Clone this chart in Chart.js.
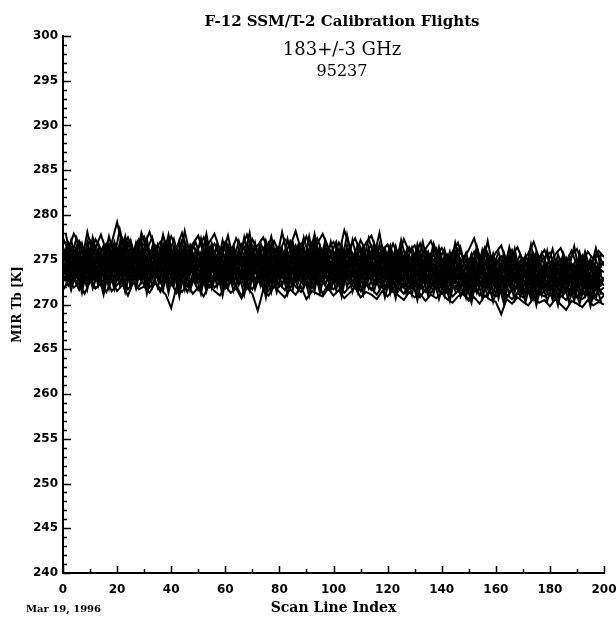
<!DOCTYPE html>
<html>
<head>
<meta charset="utf-8">
<script src="https://cdn.jsdelivr.net/npm/chart.js@4.4.1/dist/chart.umd.min.js"></script>
<style>
  html, body { margin: 0; padding: 0; background: #fff; overflow: hidden; }
  #wrap { width: 616px; height: 617px; position: relative; overflow: hidden; }
  canvas { display: block; }
</style>
</head>
<body>
<div id="wrap"><canvas id="myChart"></canvas></div>
<script>
// textos del grafico
const titulo = 'F-12 SSM/T-2 Calibration Flights';
const canal = '183+/-3 GHz';
const vuelo = '95237';
const fecha = 'Mar 19, 1996';
const ejeX = 'Scan Line Index';
const ejeY = 'MIR Tb [K]';

// marcas de los ejes
const yTicks = [240, 245, 250, 255, 260, 265, 270, 275, 280, 285, 290, 295, 300];
const xTicks = [0, 20, 40, 60, 80, 100, 120, 140, 160, 180, 200];

// indice de linea de barrido: pares e impares
const scanLine = [0, 2, 4, 6, 8, 10, 12, 14, 16, 18, 20, 22, 24, 26, 28, 30, 32, 34, 36, 38,
  40, 42, 44, 46, 48, 50, 52, 54, 56, 58, 60, 62, 64, 66, 68, 70, 72, 74, 76, 78,
  80, 82, 84, 86, 88, 90, 92, 94, 96, 98, 100, 102, 104, 106, 108, 110, 112, 114, 116, 118,
  120, 122, 124, 126, 128, 130, 132, 134, 136, 138, 140, 142, 144, 146, 148, 150, 152, 154, 156, 158,
  160, 162, 164, 166, 168, 170, 172, 174, 176, 178, 180, 182, 184, 186, 188, 190, 192, 194, 196, 198, 200];
const scanLineImpar = [1, 3, 5, 7, 9, 11, 13, 15, 17, 19, 21, 23, 25, 27, 29, 31, 33, 35, 37, 39,
  41, 43, 45, 47, 49, 51, 53, 55, 57, 59, 61, 63, 65, 67, 69, 71, 73, 75, 77, 79,
  81, 83, 85, 87, 89, 91, 93, 95, 97, 99, 101, 103, 105, 107, 109, 111, 113, 115, 117, 119,
  121, 123, 125, 127, 129, 131, 133, 135, 137, 139, 141, 143, 145, 147, 149, 151, 153, 155, 157, 159,
  161, 163, 165, 167, 169, 171, 173, 175, 177, 179, 181, 183, 185, 187, 189, 191, 193, 195, 197, 199];

// Tb de cada vuelo de calibracion (K), lineas pares
const tb01 = [277.4, 276.1, 277.9, 276.8, 275.7, 277.2, 276.3, 277.8, 276.0, 276.9,
  279.2, 276.4, 277.5, 275.9, 277.3, 276.6, 278.1, 276.2, 277.0, 275.8,
  277.6, 276.3, 278.0, 275.9, 276.8, 277.7, 275.6, 276.9, 277.9, 276.1,
  276.7, 275.5, 277.4, 276.2, 277.8, 275.9, 276.6, 277.5, 276.0, 277.1,
  275.8, 277.3, 276.5, 278.2, 276.1, 277.6, 275.7, 276.8, 277.9, 276.3,
  277.0, 275.6, 278.3, 276.4, 277.4, 275.8, 276.9, 277.7, 275.9, 276.5,
  275.2, 276.8, 275.4, 277.3, 275.9, 276.6, 274.9, 276.2, 277.1, 275.5,
  276.3, 274.8, 275.9, 276.9, 275.0, 276.1, 277.4, 275.3, 276.0, 274.7,
  275.8, 276.6, 274.6, 275.5, 276.4, 274.9, 275.7, 277.0, 275.2, 276.1,
  274.5, 275.6, 276.3, 274.8, 275.4, 276.2, 274.6, 275.9, 275.1, 276.0, 275.3];
const tb02 = [275.3, 276.9, 275.8, 277.1, 276.0, 275.4, 277.3, 276.2, 275.6, 276.8,
  275.7, 277.4, 276.1, 275.2, 276.9, 277.6, 275.8, 276.4, 275.3, 277.0,
  276.0, 275.1, 277.2, 276.6, 275.4, 276.3, 277.5, 275.7, 276.8, 275.5,
  277.0, 276.1, 274.9, 276.7, 275.6, 277.3, 276.0, 275.2, 276.9, 275.8,
  276.5, 275.3, 277.1, 275.9, 276.8, 275.0, 276.4, 277.4, 275.6, 276.2,
  275.4, 276.9, 275.7, 276.3, 275.1, 277.2, 275.9, 276.6, 275.3, 276.0,
  276.7, 275.1, 275.9, 274.6, 276.4, 275.2, 276.8, 274.9, 275.7, 276.3,
  274.8, 275.6, 274.4, 276.2, 275.3, 274.6, 275.9, 274.9, 276.4, 275.0,
  274.3, 275.4, 274.9, 276.1, 274.5, 275.2, 274.0, 275.7, 274.6, 275.3,
  275.8, 274.2, 275.1, 274.7, 276.0, 274.4, 275.5, 274.1, 274.9, 275.6, 274.3];
const tb03 = [276.4, 274.9, 275.6, 276.7, 275.1, 276.2, 274.8, 275.9, 276.8, 275.3,
  276.1, 274.7, 277.0, 275.5, 276.3, 274.9, 275.8, 276.6, 275.0, 276.4,
  274.8, 276.2, 275.4, 274.6, 276.5, 275.7, 274.9, 276.3, 275.1, 276.0,
  275.2, 276.4, 274.7, 275.9, 276.8, 275.0, 275.7, 274.5, 276.2, 275.6,
  274.9, 276.0, 275.3, 276.6, 274.8, 275.5, 276.9, 275.1, 274.6, 276.3,
  275.8, 274.7, 276.1, 275.2, 274.6, 276.4, 275.0, 275.9, 276.5, 274.8,
  275.3, 274.4, 276.0, 275.1, 274.2, 275.6, 274.8, 276.1, 274.5, 275.4,
  273.9, 275.0, 274.3, 275.5, 274.7, 273.8, 275.2, 274.1, 275.6, 274.4,
  275.0, 273.8, 274.6, 275.3, 273.6, 274.9, 274.2, 275.1, 273.9, 274.5,
  273.7, 274.8, 274.1, 275.2, 273.6, 274.4, 275.0, 273.8, 274.6, 273.9, 274.8];
const tb04 = [274.7, 276.0, 275.2, 274.4, 275.9, 274.8, 276.1, 275.0, 274.3, 275.7,
  276.3, 275.1, 274.5, 276.0, 274.9, 275.6, 274.2, 276.4, 275.3, 274.7,
  275.9, 274.4, 276.1, 275.0, 274.3, 275.8, 274.7, 276.2, 274.5, 275.4,
  274.6, 275.8, 275.1, 274.2, 276.0, 274.8, 275.5, 276.3, 274.4, 275.2,
  275.7, 274.3, 275.0, 276.1, 274.6, 275.9, 274.5, 275.3, 276.0, 274.7,
  274.4, 275.6, 274.9, 276.2, 274.1, 275.3, 274.7, 275.8, 274.3, 275.5,
  274.0, 275.2, 274.5, 273.8, 275.4, 274.2, 275.0, 273.9, 275.3, 274.6,
  274.9, 273.6, 274.4, 275.1, 273.7, 274.8, 274.0, 273.5, 274.7, 273.9,
  273.4, 274.5, 273.8, 274.2, 274.9, 273.3, 274.0, 273.6, 274.7, 273.2,
  274.3, 273.5, 274.1, 273.0, 274.6, 273.7, 273.2, 274.4, 273.4, 274.0, 273.6];
const tb05 = [275.8, 274.3, 275.1, 274.0, 275.6, 274.7, 273.9, 275.4, 274.6, 275.9,
  274.5, 275.7, 274.2, 275.3, 276.0, 274.4, 275.1, 273.9, 275.5, 274.8,
  274.1, 275.4, 274.7, 275.9, 274.0, 275.2, 274.6, 273.8, 275.3, 274.9,
  275.6, 274.2, 274.9, 275.4, 273.9, 274.7, 275.8, 274.1, 275.0, 274.4,
  274.0, 275.3, 274.6, 273.8, 275.5, 274.3, 275.0, 274.5, 273.7, 275.2,
  275.1, 273.9, 274.8, 274.2, 275.4, 273.7, 274.9, 274.3, 275.0, 274.1,
  273.6, 274.7, 273.9, 275.0, 274.1, 273.4, 274.5, 273.8, 274.3, 273.5,
  274.2, 273.3, 274.5, 273.7, 272.9, 274.0, 273.4, 274.6, 273.1, 273.9,
  273.0, 274.1, 273.4, 272.8, 273.9, 273.2, 274.3, 272.9, 273.6, 273.9,
  272.7, 273.8, 273.1, 274.0, 272.9, 273.5, 272.6, 273.7, 273.0, 273.4, 272.8];
const tb06 = [273.8, 275.0, 274.2, 275.3, 273.6, 274.8, 275.2, 273.9, 274.5, 273.4,
  275.1, 274.0, 275.4, 273.7, 274.6, 275.0, 273.5, 274.3, 275.2, 273.9,
  274.7, 273.6, 274.9, 275.3, 273.8, 274.4, 275.1, 273.5, 274.2, 274.9,
  273.7, 274.8, 274.1, 273.4, 275.0, 274.3, 273.6, 274.9, 274.0, 273.5,
  274.6, 275.2, 273.9, 274.4, 273.3, 274.7, 275.0, 273.8, 274.5, 273.6,
  274.0, 274.9, 273.5, 274.3, 275.0, 273.7, 274.5, 273.4, 274.8, 273.9,
  274.4, 273.2, 274.0, 273.6, 274.6, 273.3, 273.9, 274.5, 273.0, 274.1,
  273.0, 273.8, 272.7, 274.1, 273.3, 272.6, 273.9, 273.1, 272.5, 273.6,
  273.8, 272.6, 273.2, 273.9, 272.4, 273.5, 272.8, 273.3, 272.2, 273.1,
  273.4, 272.5, 273.0, 272.3, 273.6, 272.8, 273.2, 272.1, 273.3, 272.6, 273.0];
const tb07 = [274.9, 273.6, 274.5, 273.2, 274.7, 273.9, 274.3, 273.0, 275.0, 274.1,
  273.5, 274.8, 273.8, 274.4, 273.1, 275.0, 274.0, 273.6, 274.7, 273.3,
  274.0, 274.9, 273.4, 274.2, 273.7, 274.8, 273.2, 274.5, 273.8, 274.3,
  274.6, 273.5, 274.2, 273.0, 274.7, 273.8, 274.4, 273.3, 274.9, 273.7,
  273.4, 274.5, 273.1, 274.8, 274.0, 273.6, 274.3, 273.0, 274.6, 273.9,
  274.5, 273.3, 274.1, 273.7, 272.9, 274.4, 273.8, 274.6, 273.2, 274.0,
  273.2, 274.1, 273.5, 272.8, 274.3, 273.6, 273.0, 274.0, 273.4, 272.7,
  273.7, 272.6, 273.4, 272.9, 273.8, 272.5, 273.2, 273.9, 272.8, 273.4,
  272.4, 273.3, 272.7, 273.6, 272.3, 273.0, 273.5, 272.2, 272.9, 273.4,
  272.6, 273.1, 272.0, 272.9, 273.3, 272.2, 272.7, 273.4, 272.4, 272.0, 272.8];
const tb08 = [273.2, 274.5, 273.7, 274.8, 273.4, 274.1, 272.9, 274.4, 273.6, 274.7,
  274.2, 273.1, 274.6, 273.5, 274.0, 272.9, 274.3, 273.7, 273.0, 274.5,
  273.4, 274.3, 272.8, 274.0, 273.5, 272.9, 274.4, 273.2, 274.1, 273.0,
  273.9, 272.7, 274.2, 273.6, 273.0, 274.5, 273.3, 272.8, 273.8, 274.3,
  273.1, 273.9, 274.4, 272.9, 273.6, 274.1, 272.7, 273.5, 273.0, 274.2,
  273.3, 272.6, 274.0, 273.1, 273.7, 272.5, 273.9, 272.9, 273.4, 274.0,
  272.8, 273.6, 272.4, 273.3, 272.7, 273.9, 272.5, 273.2, 272.9, 273.5,
  272.3, 273.1, 272.6, 273.4, 272.1, 272.8, 273.2, 272.4, 273.0, 272.2,
  273.1, 272.5, 271.9, 272.8, 273.2, 272.0, 272.6, 271.8, 273.0, 272.3,
  271.9, 272.7, 272.2, 271.7, 272.9, 272.1, 272.5, 271.8, 272.4, 272.9, 272.1];
const tb09 = [274.1, 272.8, 273.5, 272.6, 274.0, 273.2, 272.7, 273.8, 272.9, 273.4,
  272.7, 273.9, 273.1, 274.2, 272.8, 273.5, 272.6, 274.0, 273.3, 272.9,
  273.8, 272.5, 273.4, 272.9, 274.0, 273.1, 272.4, 273.6, 272.8, 273.9,
  272.6, 273.3, 272.1, 273.7, 272.9, 273.2, 272.5, 273.8, 273.0, 272.4,
  273.5, 272.7, 273.2, 273.8, 272.5, 273.0, 273.6, 272.3, 273.3, 272.8,
  272.4, 273.5, 272.8, 273.1, 272.2, 273.4, 272.7, 273.0, 272.3, 273.2,
  273.1, 272.3, 272.8, 271.9, 273.0, 272.5, 271.8, 272.9, 272.2, 272.6,
  271.9, 272.7, 272.2, 271.6, 272.8, 272.0, 271.5, 272.5, 271.8, 272.6,
  272.0, 271.4, 272.5, 271.8, 272.2, 271.3, 272.4, 271.9, 271.2, 272.3,
  271.6, 272.2, 271.3, 272.0, 271.5, 272.3, 271.1, 271.8, 272.1, 271.4, 271.9];
const tb10 = [272.5, 273.6, 272.9, 271.8, 273.3, 272.6, 273.8, 272.2, 273.1, 272.7,
  273.4, 272.3, 273.0, 272.6, 273.7, 272.1, 272.9, 273.5, 272.4, 273.2,
  272.2, 273.1, 272.7, 271.4, 272.8, 273.3, 272.5, 271.9, 273.0, 272.6,
  273.2, 272.4, 272.9, 273.5, 272.1, 272.7, 273.1, 271.8, 272.6, 273.3,
  272.0, 272.8, 271.9, 272.6, 273.2, 272.3, 271.8, 272.9, 272.5, 271.7,
  272.9, 272.1, 273.3, 272.4, 271.9, 272.7, 272.2, 271.6, 272.8, 272.4,
  271.9, 272.6, 271.5, 272.3, 271.8, 272.7, 272.0, 271.4, 272.2, 271.9,
  272.4, 271.3, 271.9, 272.2, 271.4, 271.8, 272.3, 271.0, 271.7, 272.1,
  271.3, 271.9, 270.8, 271.6, 272.0, 271.2, 271.7, 270.9, 271.5, 271.8,
  271.0, 271.6, 270.9, 271.4, 271.9, 270.8, 271.5, 271.2, 270.7, 271.6, 271.1];
const tb11 = [273.4, 272.1, 272.9, 271.6, 272.6, 273.1, 271.8, 272.4, 272.9, 271.5,
  272.2, 273.0, 271.7, 272.5, 272.0, 273.2, 271.9, 272.6, 271.4, 272.8,
  272.4, 271.3, 272.7, 272.0, 272.9, 271.6, 272.3, 273.0, 271.9, 272.5,
  271.8, 272.6, 272.2, 270.9, 272.4, 271.7, 272.8, 272.1, 271.5, 272.7,
  272.3, 271.6, 272.9, 272.0, 271.4, 272.5, 271.9, 272.7, 271.2, 272.2,
  271.7, 272.4, 271.3, 272.0, 272.6, 271.5, 272.3, 271.8, 271.1, 272.1,
  272.2, 271.4, 271.9, 271.2, 272.1, 271.6, 270.8, 271.7, 271.3, 272.0,
  271.2, 271.8, 270.9, 271.5, 271.1, 270.6, 271.6, 271.2, 270.9, 271.4,
  270.9, 271.5, 271.1, 270.6, 271.3, 270.8, 271.4, 270.5, 271.2, 270.9,
  271.3, 270.7, 271.0, 270.5, 271.4, 270.9, 270.6, 271.2, 270.8, 270.4, 271.0];
const tb12 = [271.6, 272.8, 271.9, 272.4, 271.2, 272.6, 271.8, 272.3, 271.4, 272.7,
  271.5, 272.2, 271.0, 272.5, 271.7, 272.0, 271.3, 272.4, 271.8, 271.1,
  269.6, 272.0, 271.4, 272.3, 271.2, 271.9, 270.9, 272.2, 271.5, 271.0,
  272.1, 271.3, 271.8, 270.7, 271.9, 271.2, 269.3, 271.6, 271.0, 272.0,
  271.4, 270.8, 271.7, 271.1, 272.0, 270.6, 271.5, 271.2, 270.9, 271.8,
  271.0, 271.6, 270.7, 271.3, 271.9, 270.8, 271.4, 271.1, 270.6, 271.5,
  270.9, 271.7, 271.0, 270.5, 271.4, 270.8, 271.2, 270.4, 271.1, 270.7,
  271.3, 270.6, 270.2, 270.9, 271.2, 270.4, 270.8, 270.1, 271.0, 270.5,
  270.3, 268.9, 270.6, 270.1, 270.8, 270.3, 269.9, 270.7, 270.2, 270.5,
  269.8, 270.6, 270.0, 269.4, 270.4, 270.1, 269.7, 270.5, 269.9, 270.3, 270.0];

// lineas impares
const tb13 = [277.9, 275.2, 277.4, 274.9, 278.1, 275.6, 276.9, 274.8, 277.6, 275.3,
  278.4, 275.7, 277.2, 274.9, 278.0, 276.1, 277.5, 275.0, 277.8, 275.4,
  277.3, 274.8, 278.2, 275.5, 277.0, 275.1, 277.9, 274.7, 276.8, 275.6,
  277.7, 274.9, 277.1, 275.3, 278.0, 274.6, 276.9, 275.2, 277.6, 275.0,
  278.1, 275.4, 276.8, 274.7, 277.5, 275.2, 277.9, 274.8, 277.2, 275.6,
  277.0, 274.6, 277.8, 275.1, 276.7, 274.9, 277.4, 275.3, 278.0, 274.7,
  276.6, 274.3, 277.2, 274.8, 276.4, 274.5, 277.0, 274.1, 276.8, 274.9,
  276.2, 273.9, 276.9, 274.4, 275.8, 273.7, 276.5, 274.2, 277.1, 274.0,
  275.9, 273.8, 276.4, 274.1, 275.6, 273.5, 276.7, 273.9, 275.8, 274.3,
  276.2, 273.6, 275.7, 274.0, 276.5, 273.4, 275.9, 273.8, 276.3, 274.1];
const tb14 = [274.6, 277.2, 274.9, 276.8, 274.2, 277.5, 275.1, 276.6, 274.4, 277.0,
  275.0, 277.6, 274.5, 276.9, 274.8, 277.3, 274.3, 276.7, 275.2, 277.8,
  274.7, 277.1, 274.1, 276.5, 275.0, 277.4, 274.6, 276.8, 274.2, 277.2,
  274.9, 276.6, 274.3, 277.5, 274.7, 276.9, 274.0, 277.1, 274.8, 276.4,
  274.2, 277.3, 274.9, 276.7, 274.4, 277.6, 274.6, 276.5, 274.1, 277.0,
  274.5, 276.8, 273.9, 277.2, 274.6, 276.4, 274.0, 276.9, 274.7, 276.3,
  273.8, 276.5, 274.3, 276.0, 273.6, 276.7, 274.1, 275.8, 273.7, 276.4,
  274.0, 275.9, 273.4, 276.3, 273.8, 275.6, 273.2, 276.1, 273.9, 275.7,
  273.3, 275.8, 273.7, 276.2, 273.1, 275.5, 273.8, 275.9, 273.4, 276.0,
  273.2, 275.6, 273.6, 275.3, 272.9, 275.8, 273.5, 275.1, 273.0, 275.7];
const tb15 = [276.8, 274.1, 276.4, 273.8, 277.0, 274.5, 276.2, 273.9, 276.7, 274.3,
  276.9, 274.0, 276.5, 274.6, 277.2, 273.8, 276.3, 274.4, 276.8, 274.1,
  276.5, 273.6, 276.9, 274.2, 276.1, 273.9, 277.0, 274.5, 276.4, 273.7,
  276.6, 274.3, 276.0, 273.8, 276.9, 274.1, 276.3, 273.5, 276.7, 274.4,
  276.2, 273.9, 276.8, 274.2, 276.4, 273.6, 277.1, 274.0, 276.5, 274.3,
  276.0, 273.7, 276.6, 274.1, 275.8, 273.5, 276.4, 274.2, 276.7, 273.8,
  275.7, 273.4, 276.2, 273.9, 275.5, 273.2, 276.0, 273.7, 275.8, 273.3,
  275.4, 273.0, 275.9, 273.6, 275.1, 272.8, 275.7, 273.4, 275.3, 273.1,
  275.0, 272.7, 275.5, 273.2, 274.8, 272.9, 275.6, 272.6, 275.2, 273.3,
  274.9, 272.5, 275.4, 273.0, 274.6, 272.8, 275.3, 272.4, 275.0, 273.2];
const tb16 = [273.7, 276.4, 274.0, 276.1, 273.5, 276.6, 274.2, 275.9, 273.8, 276.3,
  274.1, 276.7, 273.6, 276.2, 274.3, 276.5, 273.9, 276.0, 273.4, 276.8,
  273.9, 276.1, 273.5, 276.4, 274.0, 275.8, 273.3, 276.5, 273.8, 276.0,
  273.6, 276.3, 274.1, 275.7, 273.4, 276.6, 273.9, 275.9, 273.2, 276.2,
  274.0, 275.8, 273.5, 276.4, 273.7, 276.1, 273.3, 276.5, 274.1, 275.7,
  273.4, 276.2, 273.8, 275.6, 273.2, 276.3, 273.9, 275.5, 273.5, 276.0,
  273.1, 275.7, 273.6, 275.3, 272.9, 275.9, 273.4, 275.1, 273.0, 275.6,
  272.8, 275.2, 273.3, 274.9, 272.6, 275.5, 273.1, 274.7, 272.9, 275.3,
  272.5, 274.9, 273.0, 275.2, 272.7, 274.6, 272.4, 275.0, 272.8, 274.5,
  272.3, 274.8, 272.9, 274.4, 272.2, 274.9, 272.7, 274.3, 272.5, 274.7];
const tb17 = [276.0, 273.3, 275.6, 273.0, 276.2, 273.6, 275.4, 272.9, 275.9, 273.4,
  276.1, 273.2, 275.7, 273.5, 276.3, 272.9, 275.5, 273.7, 276.0, 273.1,
  275.8, 272.8, 276.2, 273.4, 275.3, 273.0, 276.0, 273.6, 275.5, 272.7,
  275.9, 273.3, 275.2, 272.9, 276.1, 273.5, 275.4, 272.6, 275.8, 273.2,
  275.5, 273.0, 276.0, 273.4, 275.2, 272.8, 275.9, 273.1, 275.6, 273.5,
  275.3, 272.7, 275.8, 273.2, 275.0, 272.9, 275.6, 273.3, 275.4, 272.6,
  274.9, 272.5, 275.3, 272.9, 274.7, 272.3, 275.1, 272.8, 274.8, 272.4,
  274.5, 272.2, 275.0, 272.7, 274.3, 271.9, 274.8, 272.5, 274.6, 272.1,
  274.2, 271.8, 274.7, 272.3, 274.0, 272.0, 274.5, 271.7, 274.3, 272.2,
  274.0, 271.6, 274.4, 272.1, 273.8, 271.9, 274.3, 271.5, 274.1, 272.0];
const tb18 = [272.9, 275.5, 273.2, 275.1, 272.6, 275.7, 273.0, 275.3, 272.7, 275.6,
  273.1, 275.8, 272.8, 275.2, 273.4, 275.6, 272.9, 275.0, 272.5, 275.9,
  273.0, 275.3, 272.6, 275.7, 273.2, 274.9, 272.4, 275.5, 272.9, 275.1,
  272.7, 275.4, 273.1, 274.8, 272.5, 275.6, 273.0, 275.0, 272.3, 275.3,
  273.0, 274.9, 272.6, 275.5, 272.8, 275.2, 272.4, 275.6, 273.1, 274.8,
  272.5, 275.3, 272.9, 274.7, 272.3, 275.4, 272.8, 274.6, 272.6, 275.1,
  272.2, 274.8, 272.6, 274.4, 272.0, 275.0, 272.5, 274.2, 272.1, 274.7,
  271.9, 274.3, 272.4, 274.0, 271.7, 274.6, 272.2, 273.8, 271.8, 274.4,
  271.6, 274.0, 272.1, 274.3, 271.8, 273.7, 271.5, 274.1, 271.9, 273.6,
  271.4, 273.9, 272.0, 273.5, 271.3, 274.0, 271.8, 273.4, 271.6, 273.8];
const tb19 = [275.1, 272.4, 274.8, 272.1, 275.3, 272.7, 274.5, 271.9, 275.0, 272.5,
  275.2, 272.3, 274.9, 272.6, 275.4, 272.0, 274.6, 272.8, 275.1, 272.2,
  274.9, 271.8, 275.3, 272.5, 274.4, 272.1, 275.1, 272.7, 274.6, 271.9,
  275.0, 272.4, 274.3, 272.0, 275.2, 272.6, 274.5, 271.7, 274.9, 272.3,
  274.6, 272.1, 275.1, 272.5, 274.3, 271.9, 275.0, 272.2, 274.7, 272.6,
  274.4, 271.8, 274.9, 272.3, 274.1, 272.0, 274.7, 272.4, 274.5, 271.7,
  274.0, 271.6, 274.4, 272.0, 273.8, 271.4, 274.2, 271.9, 273.9, 271.5,
  273.6, 271.3, 274.1, 271.8, 273.4, 271.0, 273.9, 271.6, 273.7, 271.2,
  273.3, 270.9, 273.8, 271.4, 273.1, 271.1, 273.6, 270.8, 273.4, 271.3,
  273.1, 270.7, 273.5, 271.2, 272.9, 271.0, 273.4, 270.6, 273.2, 271.1];
const tb20 = [272.0, 274.6, 272.3, 274.2, 271.7, 274.8, 272.1, 274.4, 271.8, 274.7,
  272.2, 274.9, 271.9, 274.3, 272.5, 274.7, 272.0, 274.1, 271.6, 275.0,
  272.1, 274.4, 271.7, 274.8, 272.3, 274.0, 271.5, 274.6, 272.0, 274.2,
  271.8, 274.5, 272.2, 273.9, 271.6, 274.7, 272.1, 274.1, 271.4, 274.4,
  272.1, 274.0, 271.7, 274.6, 271.9, 274.3, 271.5, 274.7, 272.2, 273.9,
  271.6, 274.4, 272.0, 273.8, 271.4, 274.5, 271.9, 273.7, 271.7, 274.2,
  271.3, 273.9, 271.7, 273.5, 271.1, 274.1, 271.6, 273.3, 271.2, 273.8,
  271.0, 273.4, 271.5, 273.1, 270.8, 273.7, 271.3, 272.9, 270.9, 273.5,
  270.7, 273.1, 271.2, 273.4, 270.9, 272.8, 270.6, 273.2, 271.0, 272.7,
  270.5, 273.0, 271.1, 272.6, 270.4, 273.1, 270.9, 272.5, 270.7, 272.9];
const tb21 = [274.2, 271.6, 273.9, 271.3, 274.4, 271.8, 273.6, 271.1, 274.1, 271.7,
  274.3, 271.4, 274.0, 271.8, 274.5, 271.2, 273.7, 271.9, 274.2, 271.3,
  274.0, 270.9, 274.4, 271.6, 273.5, 271.2, 274.2, 271.8, 273.7, 271.0,
  274.1, 271.5, 273.4, 271.1, 274.3, 271.7, 273.6, 270.8, 274.0, 271.4,
  273.7, 271.2, 274.2, 271.6, 273.4, 271.0, 274.1, 271.3, 273.8, 271.7,
  273.5, 270.9, 274.0, 271.4, 273.2, 271.1, 273.8, 271.5, 273.6, 270.8,
  273.1, 270.7, 273.5, 271.1, 272.9, 270.5, 273.3, 271.0, 273.0, 270.6,
  272.7, 270.4, 273.2, 270.9, 272.5, 270.2, 273.0, 270.7, 272.8, 270.3,
  272.4, 270.1, 272.9, 270.5, 272.2, 270.3, 272.7, 269.9, 272.5, 270.4,
  272.2, 269.9, 272.6, 270.3, 272.0, 270.1, 272.5, 269.8, 272.3, 270.2];
const tb22 = [273.6, 276.3, 274.9, 272.8, 275.7, 273.4, 276.0, 274.2, 272.9, 275.5,
  276.6, 273.5, 275.1, 272.7, 275.9, 274.0, 276.4, 273.2, 275.3, 273.9,
  272.6, 275.8, 274.3, 276.5, 273.1, 275.2, 272.9, 276.1, 274.6, 273.3,
  275.6, 273.0, 276.2, 274.4, 272.7, 275.4, 273.8, 276.3, 273.5, 274.8,
  276.0, 273.2, 275.3, 272.8, 275.8, 274.1, 276.4, 273.6, 275.0, 272.9,
  275.5, 273.7, 276.1, 274.2, 272.6, 275.6, 273.3, 275.9, 274.0, 272.8,
  275.2, 272.9, 275.7, 273.6, 272.4, 275.3, 273.1, 275.8, 273.9, 272.6,
  274.7, 272.5, 275.4, 273.2, 272.1, 274.9, 273.6, 275.2, 272.7, 274.3,
  275.0, 272.4, 274.5, 272.9, 271.9, 274.8, 273.3, 275.1, 272.6, 274.1,
  274.6, 272.2, 274.9, 273.0, 271.8, 274.4, 272.8, 274.7, 272.3, 273.9];

const vuelosPares = [tb01, tb02, tb03, tb04, tb05, tb06, tb07, tb08, tb09, tb10, tb11, tb12];
const vuelosImpares = [tb13, tb14, tb15, tb16, tb17, tb18, tb19, tb20, tb21, tb22];

const armarSerie = (serie, indices) => ({
  data: serie.map((v, i) => ({ x: indices[i], y: v })),
  borderColor: '#000',
  borderWidth: 2,
  pointRadius: 0,
  tension: 0,
  fill: false
});

// marcas cortas hacia adentro + textos sueltos
const marcas = {
  id: 'marcas',
  afterDraw(chart) {
    const { ctx, chartArea, scales: { x, y } } = chart;
    ctx.save();
    ctx.strokeStyle = '#000';
    ctx.lineWidth = 1.5;
    ctx.beginPath();
    for (let v = yTicks[0]; v <= yTicks[yTicks.length - 1]; v++) {
      const py = Math.round(y.getPixelForValue(v)) + 0.5;
      const len = v % 5 === 0 ? 8 : 4;
      ctx.moveTo(chartArea.left, py);
      ctx.lineTo(chartArea.left + len, py);
    }
    for (let v = xTicks[0]; v <= xTicks[xTicks.length - 1]; v += 10) {
      const px = Math.round(x.getPixelForValue(v)) + 0.5;
      const len = v % 20 === 0 ? 7 : 4;
      ctx.moveTo(px, chartArea.bottom);
      ctx.lineTo(px, chartArea.bottom - len);
    }
    ctx.stroke();

    ctx.fillStyle = '#000';
    ctx.textAlign = 'center';
    ctx.textBaseline = 'middle';
    ctx.font = 'bold 15px "DejaVu Serif"';
    ctx.fillText(titulo, 342, 22);
    ctx.font = '18px "DejaVu Serif"';
    ctx.fillText(canal, 342, 50);
    ctx.font = '16px "DejaVu Serif"';
    ctx.fillText(vuelo, 342, 72);
    ctx.textAlign = 'left';
    ctx.font = 'bold 10px "DejaVu Serif"';
    ctx.fillText(fecha, 26, 609);
    ctx.restore();
  }
};

new Chart(document.getElementById('myChart'), {
  type: 'line',
  data: {
    datasets: vuelosPares.map(s => armarSerie(s, scanLine))
      .concat(vuelosImpares.map(s => armarSerie(s, scanLineImpar)))
  },
  options: {
    responsive: true,
    maintainAspectRatio: false,
    animation: false,
    layout: { padding: { top: 36, right: 12, left: 0, bottom: 0 } },
    plugins: {
      legend: { display: false },
      tooltip: { enabled: false }
    },
    scales: {
      x: {
        type: 'linear',
        min: 0,
        max: 200,
        afterBuildTicks: s => { s.ticks = xTicks.map(v => ({ value: v })); },
        afterFit: s => { s.height = 44; s.paddingLeft = 0; s.paddingRight = 0; },
        grid: { display: false, drawTicks: false },
        border: { display: true, color: '#000', width: 2 },
        ticks: {
          color: '#000',
          padding: 10,
          maxRotation: 0,
          font: { family: 'DejaVu Sans', size: 12, weight: 'bold' }
        },
        title: {
          display: true,
          text: ejeX,
          color: '#000',
          padding: { top: 0, bottom: 0 },
          font: { family: 'DejaVu Serif', size: 14, weight: 'bold' }
        }
      },
      y: {
        min: 240,
        max: 300,
        afterBuildTicks: s => { s.ticks = yTicks.map(v => ({ value: v })); },
        afterFit: s => { s.width = 63; },
        grid: { display: false, drawTicks: false },
        border: { display: true, color: '#000', width: 2 },
        ticks: {
          color: '#000',
          padding: 5,
          font: { family: 'DejaVu Sans', size: 12, weight: 'bold' }
        },
        title: {
          display: true,
          text: ejeY,
          color: '#000',
          padding: { top: 11, bottom: 0 },
          font: { family: 'DejaVu Serif', size: 12, weight: 'bold' }
        }
      }
    }
  },
  plugins: [marcas]
});
</script>
</body>
</html>
